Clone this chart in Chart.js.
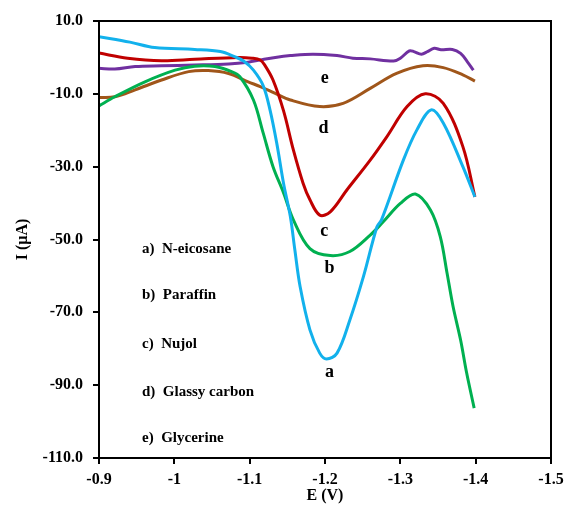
<!DOCTYPE html>
<html>
<head>
<meta charset="utf-8">
<script src="https://cdn.jsdelivr.net/npm/chart.js@4.4.0/dist/chart.umd.min.js"></script>
<style>
  body { margin: 0; background: #fff; }
</style>
</head>
<body>
<canvas id="myChart" width="565" height="506"></canvas>
<script>
// a) N-eicosane
const eicosaneE = [-0.900, -0.941, -0.974, -1.027, -1.061, -1.080, -1.092, -1.105, -1.118, -1.127, -1.136, -1.145, -1.154, -1.160, -1.167, -1.180, -1.193, -1.202, -1.216, -1.233, -1.251, -1.269, -1.275, -1.304, -1.322, -1.341, -1.357, -1.383, -1.399]
const eicosaneI = [5.7, 4.2, 2.7, 2.2, 1.6, 0.2, -1.0, -3.5, -7.8, -14.4, -23.6, -34.6, -43.7, -52.9, -63.0, -74.8, -81.2, -82.8, -81.2, -72.1, -60.2, -46.5, -44.6, -28.2, -19.9, -14.4, -18.0, -30.0, -38.3]

// b) Paraffin
const paraffinE = [-0.900, -0.921, -0.961, -1.001, -1.027, -1.054, -1.076, -1.087, -1.105, -1.118, -1.131, -1.145, -1.158, -1.180, -1.207, -1.233, -1.260, -1.277, -1.300, -1.320, -1.340, -1.353, -1.362, -1.370, -1.380, -1.388, -1.398]
const paraffinI = [-13.3, -10.8, -6.7, -3.5, -2.4, -2.5, -3.9, -5.3, -11.7, -20.8, -30.0, -37.2, -44.6, -52.5, -54.4, -53.3, -48.8, -45.2, -40.1, -37.5, -41.9, -49.2, -59.2, -68.4, -77.6, -86.6, -96.3]

// c) Nujol
const nujolE = [-0.900, -0.938, -0.983, -1.027, -1.085, -1.103, -1.114, -1.120, -1.131, -1.145, -1.158, -1.171, -1.180, -1.193, -1.207, -1.229, -1.260, -1.282, -1.309, -1.333, -1.357, -1.383, -1.399]
const nujolI = [1.2, -0.2, -0.9, -0.5, 0.0, -0.2, -0.7, -2.1, -6.2, -14.7, -25.4, -34.6, -39.1, -43.3, -42.4, -36.4, -28.2, -21.8, -13.5, -10.0, -12.6, -24.5, -38.3]

// d) Glassy carbon
const glassyE = [-0.900, -0.921, -0.948, -0.983, -1.019, -1.045, -1.072, -1.098, -1.114, -1.134, -1.154, -1.193, -1.224, -1.260, -1.295, -1.330, -1.357, -1.383, -1.399]
const glassyI = [-11.0, -10.8, -8.9, -6.2, -3.9, -3.6, -4.4, -6.7, -8.0, -9.9, -11.7, -13.5, -12.6, -8.5, -4.4, -2.3, -2.8, -4.8, -6.5]

// e) Glycerine
const glycerineE = [-0.900, -0.921, -0.948, -0.983, -1.027, -1.072, -1.098, -1.114, -1.134, -1.154, -1.184, -1.216, -1.237, -1.260, -1.291, -1.300, -1.312, -1.318, -1.328, -1.336, -1.345, -1.354, -1.369, -1.380, -1.389, -1.397]
const glycerineI = [-3.0, -3.2, -2.5, -2.3, -2.1, -1.8, -1.3, -0.7, 0.0, 0.5, 0.9, 0.5, -0.2, -0.4, -1.0, -0.2, 1.8, 1.6, 0.9, 1.6, 2.5, 2.1, 2.2, 1.1, -1.2, -3.5]

// letters next to the curves
const curveLetters = ['e', 'd', 'c', 'b', 'a']
const letterE = [-1.1995, -1.198, -1.199, -1.206, -1.206]
const letterI = [-5.7, -19.5, -47.8, -57.9, -86.6]

// key text on the left
const legendNames = ['a)  N-eicosane', 'b)  Paraffin', 'c)  Nujol', 'd)  Glassy carbon', 'e)  Glycerine']
const legendE = -0.9571
const legendI = [-52.6, -65.2, -78.7, -91.8, -104.5]

const serif = '"Liberation Serif", "Times New Roman", serif'

function pairs(xs, ys) {
  const out = []
  for (let i = 0; i < xs.length; i++) out.push({ x: xs[i], y: ys[i] })
  return out
}

function line(label, xs, ys, color) {
  return {
    label: label,
    data: pairs(xs, ys),
    borderColor: color,
    backgroundColor: color,
    borderWidth: 3,
    pointRadius: 0,
    tension: 0.35,
    fill: false
  }
}

// texts and frame drawn on top
const textPlugin = {
  id: 'curveText',
  afterDraw(chart) {
    const ctx = chart.ctx
    const xs = chart.scales.x
    const ys = chart.scales.y
    ctx.save()
    ctx.fillStyle = '#000'
    ctx.textBaseline = 'middle'

    ctx.font = 'bold 18px ' + serif
    ctx.textAlign = 'center'
    for (let i = 0; i < curveLetters.length; i++) {
      ctx.fillText(curveLetters[i], xs.getPixelForValue(letterE[i]), ys.getPixelForValue(letterI[i]))
    }

    ctx.font = 'bold 15px ' + serif
    ctx.textAlign = 'left'
    for (let i = 0; i < legendNames.length; i++) {
      ctx.fillText(legendNames[i], xs.getPixelForValue(legendE), ys.getPixelForValue(legendI[i]))
    }

    const a = chart.chartArea
    ctx.strokeStyle = '#000'
    ctx.lineWidth = 2
    ctx.strokeRect(a.left, a.top, a.right - a.left, a.bottom - a.top)
    ctx.restore()
  }
}

const ctx = document.getElementById('myChart').getContext('2d')
const myChart = new Chart(ctx, {
  type: 'line',
  data: {
    datasets: [
      line('N-eicosane', eicosaneE, eicosaneI, '#12B1EC'),
      line('Paraffin', paraffinE, paraffinI, '#00B050'),
      line('Nujol', nujolE, nujolI, '#C00000'),
      line('Glassy carbon', glassyE, glassyI, '#A0561A'),
      line('Glycerine', glycerineE, glycerineI, '#7030A0')
    ]
  },
  options: {
    responsive: false,
    animation: false,
    layout: { padding: { top: 21, right: 14, left: 0, bottom: 0 } },
    plugins: {
      legend: { display: false },
      tooltip: { enabled: false }
    },
    scales: {
      x: {
        type: 'linear',
        reverse: true,
        min: -1.5,
        max: -0.9,
        afterFit: (scale) => {
          scale.height = 48
          scale.paddingLeft = 0
          scale.paddingRight = 0
        },
        ticks: {
          stepSize: 0.1,
          color: '#000',
          padding: 6,
          font: { family: serif, size: 16, weight: 'bold' },
          callback: (v) => String(Number(v.toFixed(1)))
        },
        grid: { drawOnChartArea: false, drawTicks: true, tickLength: 6, color: '#000', lineWidth: 2 },
        border: { display: true, color: '#000', width: 2 },
        title: {
          display: true,
          text: 'E (V)',
          color: '#000',
          padding: { top: 0, bottom: 1 },
          font: { family: serif, size: 16, weight: 'bold' }
        }
      },
      y: {
        min: -110,
        max: 10,
        afterFit: (scale) => { scale.width = 99 },
        ticks: {
          stepSize: 20,
          color: '#000',
          padding: 10,
          font: { family: serif, size: 16, weight: 'bold' },
          callback: (v) => v.toFixed(1)
        },
        grid: { drawOnChartArea: false, drawTicks: true, tickLength: 6, color: '#000', lineWidth: 2 },
        border: { display: true, color: '#000', width: 2 },
        title: {
          display: true,
          text: 'I (µA)',
          color: '#000',
          padding: { top: 13, bottom: 0 },
          font: { family: serif, size: 16, weight: 'bold' }
        }
      }
    }
  },
  plugins: [textPlugin]
})
</script>
</body>
</html>
